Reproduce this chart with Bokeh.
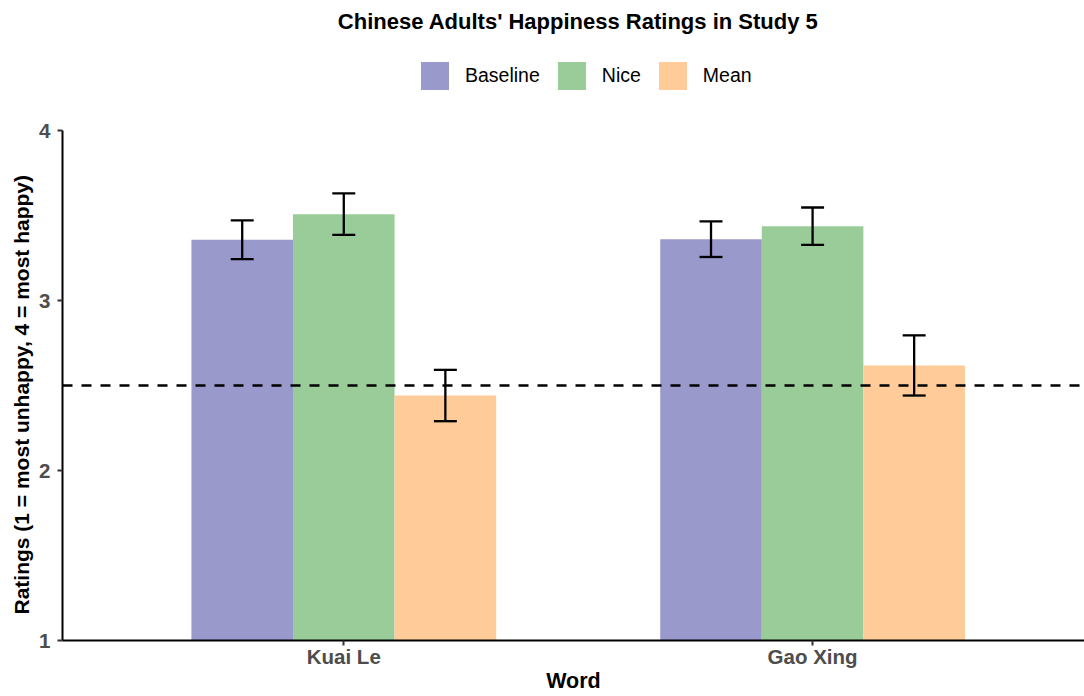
from bokeh.plotting import figure
from bokeh.models import (Range1d, FixedTicker, Span, Legend, LegendItem,
                          ColumnDataSource, Label, Title)
from bokeh.embed import file_html
from bokeh.resources import INLINE

# ---- data -------------------------------------------------------------
words = ["Kuai Le", "Gao Xing"]
conditions = ["Baseline", "Nice", "Mean"]
colors = ["#9999CC", "#99CC99", "#FFCC99"]

baseline_mean = [3.357, 3.361]
baseline_se = [0.114, 0.105]
nice_mean = [3.508, 3.437]
nice_se = [0.122, 0.110]
mean_mean = [2.441, 2.618]
mean_se = [0.151, 0.177]

chance_level = 2.5
y_ticks = [1, 2, 3, 4]

title_text = "Chinese Adults' Happiness Ratings in Study 5"
x_title = "Word"
y_title = "Ratings (1 = most unhappy, 4 = most happy)"

# ---- layout constants ------------------------------------------------------
FONT = "Liberation Sans"
GROUP_WIDTH = 0.65
BAR_WIDTH = GROUP_WIDTH / len(conditions)
CAP_HALF = 0.0245
AXIS_GRAY = "#4D4D4D"

PLOT_W, PLOT_H = 1084, 696
BOTTOM_BORDER = 56
FRAME_H = PLOT_H - BOTTOM_BORDER           # plot area reaches the top edge
PANEL_TOP_PX = 130                         # where the rating scale ends (4)
PX_PER_UNIT = (FRAME_H - PANEL_TOP_PX) / (y_ticks[-1] - y_ticks[0])
Y_TOP = y_ticks[-1] + PANEL_TOP_PX / PX_PER_UNIT   # headroom for title + legend


def y_at_px(py):
    """Rating value sitting at canvas row py (measured from the top)."""
    return y_ticks[0] + (FRAME_H - py) / PX_PER_UNIT


p = figure(width=PLOT_W, height=PLOT_H,
           x_range=Range1d(0.4, 2.58), y_range=Range1d(y_ticks[0], Y_TOP),
           output_backend="svg", toolbar_location=None, title_location=None,
           min_border_left=62, min_border_right=0,
           min_border_top=0, min_border_bottom=BOTTOM_BORDER)

p.background_fill_color = "white"
p.border_fill_color = "white"
p.outline_line_color = None
p.xgrid.visible = False
p.ygrid.visible = False

# title, centred over the panel
p.add_layout(Label(x=1.5, y=y_at_px(21), text=title_text,
                   text_align="center", text_baseline="alphabetic",
                   text_font=FONT, text_font_size="22px",
                   text_font_style="bold", text_color="black"))

# reference line at the scale midpoint
p.add_layout(Span(location=chance_level, dimension="width",
                  line_color="black", line_width=2.3, line_dash="10 9"))

# ---- bars and error bars -------------------------------------------------
series = [(baseline_mean, baseline_se), (nice_mean, nice_se), (mean_mean, mean_se)]
legend_items = []
for i, (cond, (means, ses), color) in enumerate(zip(conditions, series, colors)):
    offset = (i - (len(conditions) - 1) / 2) * BAR_WIDTH
    xs = [k + 1 + offset for k in range(len(words))]
    src = ColumnDataSource(dict(
        x=xs, top=means,
        lo=[m - s for m, s in zip(means, ses)],
        hi=[m + s for m, s in zip(means, ses)],
        cl=[x - CAP_HALF for x in xs],
        cr=[x + CAP_HALF for x in xs],
    ))
    r = p.vbar(x="x", top="top", bottom=y_ticks[0], width=BAR_WIDTH, source=src,
               fill_color=color, line_color=None)
    legend_items.append(LegendItem(label=cond, renderers=[r]))

    p.segment(x0="x", y0="lo", x1="x", y1="hi", source=src,
              line_color="black", line_width=2.3)
    p.segment(x0="cl", y0="hi", x1="cr", y1="hi", source=src,
              line_color="black", line_width=2.3)
    p.segment(x0="cl", y0="lo", x1="cr", y1="lo", source=src,
              line_color="black", line_width=2.3)

# ---- axes --------------------------------------------------------------
p.xaxis.ticker = FixedTicker(ticks=[k + 1 for k in range(len(words))])
p.xaxis.major_label_overrides = {k + 1: w for k, w in enumerate(words)}
p.yaxis.ticker = FixedTicker(ticks=y_ticks)
p.yaxis.bounds = (y_ticks[0], y_ticks[-1])

p.xaxis.axis_label = x_title

for ax in (p.xaxis[0], p.yaxis[0]):
    ax.axis_line_color = "black"
    ax.axis_line_width = 2
    ax.major_tick_line_color = "#333333"
    ax.major_tick_line_width = 2
    ax.major_tick_out = 5
    ax.major_tick_in = 0
    ax.minor_tick_line_color = None
    ax.major_label_text_font = FONT
    ax.major_label_text_font_size = "20.5px"
    ax.major_label_text_font_style = "bold"
    ax.major_label_text_color = AXIS_GRAY
    ax.axis_label_text_font = FONT
    ax.axis_label_text_font_size = "21.5px"
    ax.axis_label_text_font_style = "bold"
    ax.axis_label_text_color = "black"

p.xaxis.major_label_standoff = -1
p.xaxis.axis_label_standoff = -2
p.yaxis.major_label_standoff = 7

# y-axis title, centred on the 1-4 scale rather than the whole plot area
p.add_layout(Title(text=y_title, align="left", offset=26,
                   vertical_align="bottom", standoff=8,
                   text_font=FONT, text_font_size="21px",
                   text_font_style="bold", text_color="black"), "left")

# ---- legend --------------------------------------------------------------
legend = Legend(items=legend_items, orientation="horizontal",
                location=(355, FRAME_H - 93),
                glyph_width=35, glyph_height=35,
                label_standoff=13, spacing=14,
                padding=0, margin=0,
                border_line_color=None, background_fill_alpha=0,
                label_text_font=FONT, label_text_font_size="19.5px",
                label_text_color="black")
p.add_layout(legend)

open("out.html", "w").write(file_html(p, INLINE))
